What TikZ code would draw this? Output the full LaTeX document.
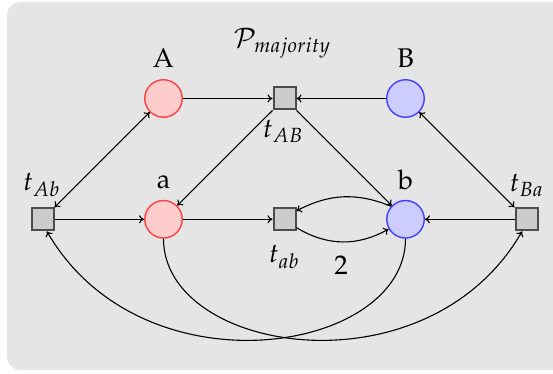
\documentclass[tikz,border=0pt]{standalone}
\usepackage[T1]{fontenc}
\usepackage{mathpazo}
\usetikzlibrary{arrows.meta}
\tikzset{
  >={To[length=5pt,width=8pt]},
  lbl/.style={font=\fontsize{27}{32}\selectfont, inner sep=0pt},
  placered/.style={circle, minimum size=37.5pt, inner sep=0pt, draw=red!75, fill=red!20, line width=1.4pt},
  placeblue/.style={circle, minimum size=37.5pt, inner sep=0pt, draw=blue!75, fill=blue!20, line width=1.4pt},
  trans/.style={rectangle, minimum size=22pt, inner sep=0pt, draw=black!70, fill=gray!40, line width=2pt},
  arc/.style={->, line width=1.1pt},
  darc/.style={<->, line width=1.1pt}
}
\begin{document}
\begin{tikzpicture}[x=1pt,y=1pt]
\useasboundingbox (0,0) rectangle (553,374);
\fill[black!10, rounded corners=13pt] (7,4) rectangle (566,372);

\node[placered] (A) at (163.5,275.5) {};
\node[placeblue] (B) at (405.5,275.5) {};
\node[placered] (a) at (163.5,154.7) {};
\node[placeblue] (b) at (405.5,154.7) {};
\node[trans] (tAB) at (284.5,275.5) {};
\node[trans] (tab) at (284.5,154.7) {};
\node[trans] (tAb) at (42.5,154.7) {};
\node[trans] (tBa) at (526.5,154.7) {};

\node[lbl] (lA) at (163.5,315.7) {A};
\node[lbl] (lB) at (405.5,315.7) {B};
\node[lbl] (la) at (163.5,192.3) {a};
\node[lbl] (lb) at (405.5,194) {b};
\node[lbl] (ltAB) at (283,242.3) {$t_{AB}$};
\node[lbl] (ltab) at (284,117.3) {$t_{ab}$};
\node[lbl] (ltAb) at (41.5,189) {$t_{Ab}$};
\node[lbl] (ltBa) at (526.5,189) {$t_{Ba}$};
\node[lbl] (title) at (282.3,330.7) {$\mathcal{P}_{majority}$};
\node[lbl] (two) at (341,108.5) {2};

\draw[arc] (A) -- (tAB);
\draw[arc] (B) -- (tAB);
\draw[arc] (tAB) -- (a);
\draw[arc] (tAB) -- (b);
\draw[darc] (tAb) -- (A);
\draw[darc] (tBa) -- (B);
\draw[arc] (tAb) -- (a);
\draw[arc] (a) -- (tab);
\draw[arc] (tBa) -- (b);
\draw[arc] (b.138) to[bend right=25] (tab.35);
\draw[arc] (tab.-35) to[bend right=30] (b.-150);
\draw[arc] (a.south) to[out=-90, in=-120, out distance=115pt, in distance=190pt] (tBa.-110);
\draw[arc] (b.south) to[out=-90, in=-60, out distance=115pt, in distance=190pt] (tAb.-70);
\end{tikzpicture}
\end{document}
